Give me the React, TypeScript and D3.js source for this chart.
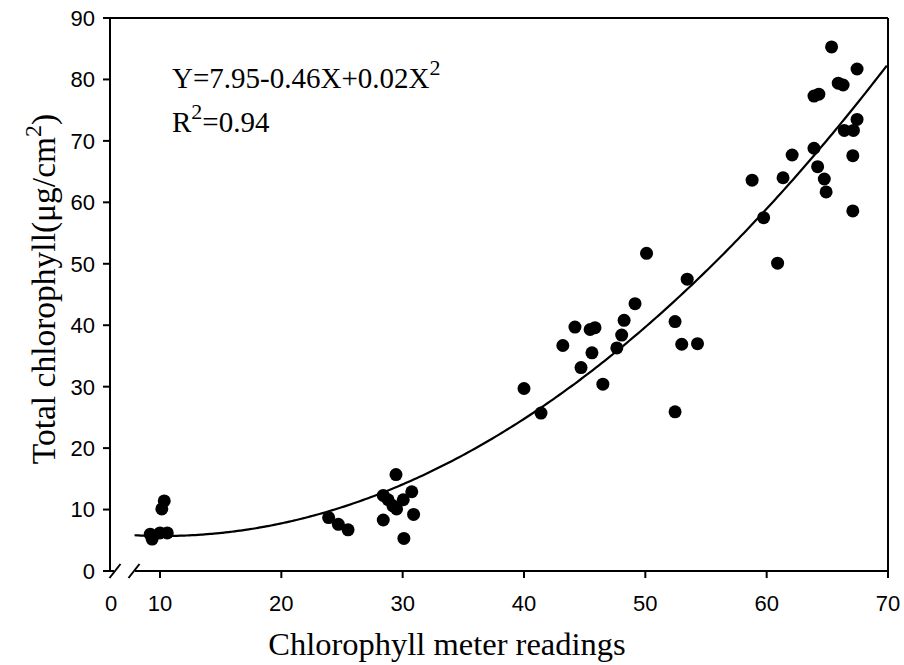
import React from "react";
import * as d3 from "d3";

const meterX = [9.2, 9.35, 10.0, 10.6, 10.15, 10.35, 23.9, 24.7, 25.5, 28.4, 28.8, 29.2, 29.5, 29.45, 30.05, 30.75, 28.4, 30.9, 30.1, 40.0, 41.4, 43.2, 44.2, 45.45, 45.85, 45.6, 44.7, 46.5, 47.65, 48.05, 48.25, 49.15, 50.1, 52.45, 53.0, 54.3, 53.45, 52.45, 58.8, 59.75, 61.35, 62.1, 63.9, 64.2, 63.9, 64.3, 64.75, 64.9, 65.35, 65.9, 66.3, 66.4, 67.15, 67.45, 67.1, 67.45, 67.1, 60.9];
const chlY = [6.0, 5.2, 6.2, 6.2, 10.1, 11.4, 8.7, 7.6, 6.7, 12.3, 11.6, 10.6, 10.1, 15.7, 11.6, 12.9, 8.3, 9.2, 5.3, 29.7, 25.7, 36.7, 39.7, 39.3, 39.6, 35.5, 33.1, 30.4, 36.3, 38.4, 40.8, 43.5, 51.7, 40.6, 36.9, 37.0, 47.5, 25.9, 63.6, 57.5, 64.0, 67.7, 68.8, 65.8, 77.3, 77.6, 63.8, 61.7, 85.3, 79.4, 79.1, 71.7, 71.7, 73.5, 67.6, 81.7, 58.6, 50.1];
const xTicks = [10, 20, 30, 40, 50, 60, 70];
const yTicks = [0, 10, 20, 30, 40, 50, 60, 70, 80, 90];
const fitCoef = [7.95, -0.44, 0.0215];
const fitRange = [7.9, 70];

export default function App() {
  const x = d3.scaleLinear().domain([10, 70]).range([160, 888]);
  const y = d3.scaleLinear().domain([0, 90]).range([571, 18]);
  const left = 110;
  const bottom = y(0);
  const top = y(90);
  const right = x(70);

  const fitX = d3.range(fitRange[0], fitRange[1] + 0.001, 0.25);
  const fitLine = d3
    .line<number>()
    .x((d) => x(d))
    .y((d) => y(fitCoef[0] + fitCoef[1] * d + fitCoef[2] * d * d))
    .curve(d3.curveMonotoneX);

  const sans = "'Liberation Sans', Arial, sans-serif";
  const serif = "'Liberation Serif', 'Times New Roman', serif";
  const b1 = 115;
  const b2 = 134;

  return (
    <svg
      width={904}
      height={665}
      style={{ position: "absolute", left: 0, top: 0, background: "#fff" }}
    >
      <rect x={0} y={0} width={904} height={665} fill="#fff" />
      {/* frame */}
      <g stroke="#000" strokeWidth={2} fill="none">
        <line x1={left} y1={top} x2={right} y2={top} />
        <line x1={right} y1={top} x2={right} y2={bottom} />
        <line x1={left} y1={top} x2={left} y2={bottom} />
        <line x1={left} y1={bottom} x2={b1 - 1} y2={bottom} />
        <line x1={b2 + 1} y1={bottom} x2={right} y2={bottom} />
        <line x1={b1 - 5.5} y1={bottom + 7} x2={b1 + 5.5} y2={bottom - 7} />
        <line x1={b2 - 5.5} y1={bottom + 7} x2={b2 + 5.5} y2={bottom - 7} />
        {yTicks.map((t) => (
          <line key={"yt" + t} x1={left - 7} y1={y(t)} x2={left} y2={y(t)} />
        ))}
        {xTicks.map((t) => (
          <line key={"xt" + t} x1={x(t)} y1={bottom} x2={x(t)} y2={bottom + 7} />
        ))}
      </g>
      {/* tick labels */}
      <g fontFamily={sans} fontSize={22} fill="#000">
        {yTicks.map((t) => (
          <text key={"yl" + t} x={95} y={y(t)} dy="0.36em" textAnchor="end">
            {t}
          </text>
        ))}
        <text x={left + 1} y={611} textAnchor="middle">0</text>
        {xTicks.map((t) => (
          <text key={"xl" + t} x={x(t)} y={611} textAnchor="middle">
            {t}
          </text>
        ))}
      </g>
      {/* fit curve */}
      <path d={fitLine(fitX) || ""} fill="none" stroke="#000" strokeWidth={2.2} />
      {/* points */}
      <g fill="#000">
        {meterX.map((v, i) => (
          <circle key={"p" + i} cx={x(v)} cy={y(chlY[i])} r={6.5} />
        ))}
      </g>
      {/* equation */}
      <g fontFamily={serif} fontSize={29} fill="#000">
        <text x={172} y={88}>
          Y=7.95-0.46X+0.02X
          <tspan fontSize={22} dy={-13}>2</tspan>
        </text>
        <text x={172} y={132}>
          R<tspan fontSize={22} dy={-13}>2</tspan>
          <tspan dy={13}>=0.94</tspan>
        </text>
      </g>
      {/* axis titles */}
      <text
        x={447}
        y={655}
        textAnchor="middle"
        fontFamily={serif}
        fontSize={32.5}
        fill="#000"
      >
        Chlorophyll meter readings
      </text>
      <text
        transform="translate(55,289) rotate(-90)"
        textAnchor="middle"
        fontFamily={serif}
        fontSize={33.5}
        fill="#000"
      >
        Total chlorophyll(μg/cm
        <tspan fontSize={24} dy={-14}>2</tspan>
        <tspan dy={14}>)</tspan>
      </text>
    </svg>
  );
}
